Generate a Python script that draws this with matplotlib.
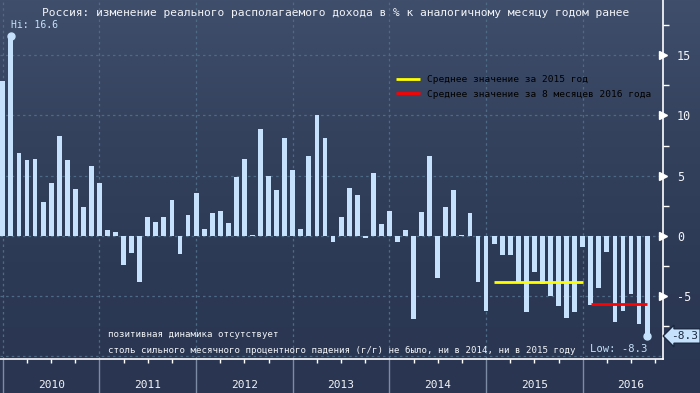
import numpy as np
import matplotlib.pyplot as plt
from matplotlib.colors import LinearSegmentedColormap

# monthly y/y change, first bar = Dec 2009 (Bloomberg month-end dates), last = Aug 2016
values = [12.9, 16.6, 6.9, 6.3, 6.4, 2.8, 4.4, 8.3, 6.3, 3.9, 2.4, 5.8,
          4.4, 0.5, 0.3, -2.4, -1.4, -3.8, 1.6, 1.2, 1.6, 3.0, -1.5, 1.7,
          3.6, 0.6, 1.9, 2.1, 1.1, 4.9, 6.4, 0.1, 8.9, 5.0, 3.8, 8.1,
          5.5, 0.6, 6.6, 10.0, 8.1, -0.5, 1.6, 4.0, 3.4, -0.2, 5.2, 1.0,
          2.1, -0.5, 0.5, -6.9, 2.0, 6.6, -3.5, 2.4, 3.8, 0.1, 1.9, -3.8,
          -6.2, -0.7, -1.6, -1.6, -3.8, -6.3, -3.0, -4.0, -5.0, -5.8, -6.8, -6.3,
          -0.9, -5.7, -4.3, -1.3, -7.1, -6.2, -4.8, -7.3, -8.3]
years = ["2010", "2011", "2012", "2013", "2014", "2015", "2016"]
year_start = [0, 12, 24, 36, 48, 60, 72]
months_2015 = (61, 72)
months_2016 = (73, 80)

title = "Россия: изменение реального располагаемого дохода в % к аналогичному месяцу годом ранее"
label_2015 = "Среднее значение за 2015 год"
label_2016 = "Среднее значение за 8 месяцев 2016 года"
note1 = "позитивная динамика отсутствует"
note2 = "столь сильного месячного процентного падения (г/г) не было, ни в 2014, ни в 2015 году"

plt.rcParams.update({"font.family": "DejaVu Sans Mono"})
bar_c = "#c6e1fb"; grid_c = "#4e6b86"; txt_c = "#f2f4f8"

x = np.arange(len(values))
vals = np.array(values)
mean15 = vals[months_2015[0]:months_2015[1] + 1].mean()
mean16 = vals[months_2016[0]:months_2016[1] + 1].mean()

fig = plt.figure(figsize=(7, 3.93), dpi=100)
bg = fig.add_axes([0, 0, 1, 1], zorder=-5)
cmap = LinearSegmentedColormap.from_list("bg", ["#2a3651", "#2d3a55", "#34425e", "#3f4e6b"])
bg.imshow(np.linspace(0, 1, 256).reshape(-1, 1)[::-1], aspect="auto", cmap=cmap, extent=[0, 1, 0, 1])
bg.axis("off")

ax = fig.add_axes([0, 34 / 393, 663 / 700, 359 / 393])
ax.set_facecolor("none")
ax.bar(x, vals, width=0.6, color=bar_c, zorder=3)
ax.set_xlim(-0.35, 81.97)
ax.set_ylim(-10.21, 19.585)

# mean lines
l15 = ax.hlines(mean15, *months_2015, color="#ffff00", lw=2, zorder=4, label=label_2015)
l16 = ax.hlines(mean16, *months_2016, color="#ff0000", lw=2, zorder=4, label=label_2016)
leg = ax.legend(handles=[l15, l16], loc="upper left", bbox_to_anchor=(0.597, 0.79),
                frameon=False, fontsize=6.8, handlelength=2.6, handletextpad=0.7,
                labelspacing=0.55, borderpad=0, borderaxespad=0, labelcolor="linecolor")

# grid & axes
ax.set_yticks([-10, -5, 0, 5, 10, 15])
ax.set_yticklabels(["", "-5", "0", "5", "10", "15"])
ax.set_yticks([-7.5, -2.5, 2.5, 7.5, 12.5, 17.5], minor=True)
ax.set_xticks(year_start)
ax.set_xticklabels([])
ax.set_xticks(np.arange(3, 82, 3), minor=True)
ax.grid(True, which="major", color=grid_c, ls=(0, (2, 2.5)), lw=0.9, zorder=1)
ax.yaxis.tick_right()
ax.tick_params(axis="y", which="major", length=0, pad=10, labelcolor=txt_c, labelsize=8.5)
ax.tick_params(axis="y", which="minor", length=4, color="white", width=1)
ax.tick_params(axis="x", which="major", length=24.5, color="#7d8ba3", width=1)
ax.tick_params(axis="x", which="minor", length=3, color="white", width=1)
for s in ["left", "top"]:
    ax.spines[s].set_visible(False)
for s in ["right", "bottom"]:
    ax.spines[s].set_color("white"); ax.spines[s].set_linewidth(1.2)
ax.plot(np.ones(5), [-5, 0, 5, 10, 15], ls="none", marker=">", ms=6, color="white",
        transform=ax.get_yaxis_transform(), clip_on=False, zorder=5)

for ys, yl in zip(year_start, years):
    ax.text(ys + 6, -0.072, yl, transform=ax.get_xaxis_transform(), ha="center", va="center",
            color=txt_c, fontsize=8)

# hi / low
ih, il = int(vals.argmax()), int(vals.argmin())
ax.plot([ih, il], [vals[ih], vals[il]], "o", color=bar_c, ms=5, zorder=5, clip_on=False)
ax.annotate(f"Hi: {vals[ih]:.1f}", (ih, vals[ih]), xytext=(0, 4), textcoords="offset points",
            ha="left", va="bottom", color=bar_c, fontsize=7)
ax.annotate(f"Low: {vals[il]:.1f}", (il, vals[il]), xytext=(0, -6), textcoords="offset points",
            ha="right", va="top", color=bar_c, fontsize=7.6)
ax.text(1.012, vals[il], f"{vals[il]:.1f}", transform=ax.get_yaxis_transform(), ha="left",
        va="center", color="#1b2840", fontsize=8,
        bbox=dict(boxstyle="larrow,pad=0.2", fc=bar_c, ec="#1b2840", lw=1))

ax.text(0.506, 0.965, title, transform=ax.transAxes, ha="center", va="center", color=txt_c, fontsize=8.1)
ax.text(0.163, 0.067, note1, transform=ax.transAxes, ha="left", va="center", color=txt_c, fontsize=6.6)
ax.text(0.163, 0.025, note2, transform=ax.transAxes, ha="left", va="center", color=txt_c, fontsize=6.6)

fig.savefig("out.png", dpi=100)
